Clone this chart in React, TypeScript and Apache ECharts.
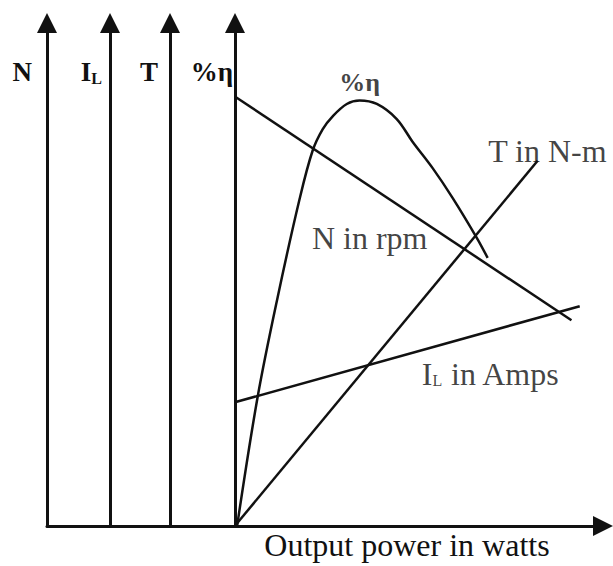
import React, { useEffect, useRef } from 'react';
import * as echarts from 'echarts';

// Output power (arbitrary units, 0 = origin) vs quantity (arbitrary units 0..100)
const speedN: number[][] = [[0, 85.4], [89.6, 40.9]];
const currentIL: number[][] = [[0, 24.6], [91.8, 43.7]];
const torqueT: number[][] = [[0, 0], [80.6, 72.6]];
const efficiency: number[][] = [
  [0.6, 0], [6.1, 25.8], [11.4, 45.5], [17.3, 65.2], [20.7, 74.6],
  [23.4, 78.9], [26.1, 81.5], [29.8, 83.9], [33.2, 84.6], [37.8, 83.9],
  [43.1, 80.9], [47.3, 76.4], [52.7, 71.1], [58.0, 65.2], [64.4, 57.3], [67.3, 53.3],
];

const axisNames = ['N', '{b|I}{s|L}', 'T', '%η'];
const curveLabels = ['%η', 'N in rpm', 'T in N-m', '{i|I}{s|L} in Amps'];
const xAxisName = 'Output power in watts';

// layout (not data)
const labelAnchors: number[][] = [[33.2, 88.2], [35.9, 57.3], [83.2, 74.6], [68.1, 30.3]];
const axisOffsets = [0, -63, -123, -188];
const axisNamePad = [15, 8, 12, 2];

const FONT = "'Liberation Serif', 'Times New Roman', serif";
const INK = '#111';

export default function App() {
  const ref = useRef<HTMLDivElement>(null);
  useEffect(() => {
    if (!ref.current) return;
    const chart = echarts.init(ref.current, undefined, { renderer: 'svg' });
    const yAxes = axisNames.map((nm, i) => ({
      type: 'value',
      min: 0,
      max: 100,
      position: 'left',
      offset: axisOffsets[i],
      name: nm,
      nameLocation: 'end',
      nameGap: -49,
      nameTextStyle: {
        fontFamily: FONT,
        fontSize: 27,
        fontWeight: 'bold',
        color: INK,
        align: 'right',
        verticalAlign: 'middle',
        padding: [0, axisNamePad[i], 0, 0],
        rich: {
          b: { fontFamily: FONT, fontSize: 27, fontWeight: 'bold', color: INK },
          s: { fontFamily: FONT, fontSize: 16, fontWeight: 'bold', color: INK, padding: [12, 0, 0, 0] },
        },
      },
      axisLine: {
        show: true,
        onZero: false,
        symbol: ['none', 'triangle'],
        symbolSize: [20, 20],
        lineStyle: { color: INK, width: 3 },
      },
      axisTick: { show: false },
      axisLabel: { show: false },
      splitLine: { show: false },
    }));
    const lineStyle = { color: INK, width: 2.5 };
    chart.setOption({
      animation: false,
      backgroundColor: '#fff',
      grid: { left: 47, right: 10, top: 23, bottom: 35, containLabel: false },
      xAxis: {
        type: 'value',
        min: -50,
        max: 98,
        name: xAxisName,
        nameLocation: 'middle',
        nameGap: 19,
        nameTextStyle: {
          fontFamily: FONT,
          fontSize: 32,
          color: INK,
          verticalAlign: 'middle',
          padding: [0, 0, 0, 164],
        },
        axisLine: {
          show: true,
          symbol: ['none', 'triangle'],
          symbolSize: [20, 20],
          lineStyle: { color: INK, width: 3 },
        },
        axisTick: { show: false },
        axisLabel: { show: false },
        splitLine: { show: false },
      },
      yAxis: yAxes,
      series: [
        { name: 'N in rpm', type: 'line', data: speedN, showSymbol: false, lineStyle, silent: true },
        { name: 'IL in Amps', type: 'line', data: currentIL, showSymbol: false, lineStyle, silent: true },
        { name: 'T in N-m', type: 'line', data: torqueT, showSymbol: false, lineStyle, silent: true },
        {
          name: '%η', type: 'line', data: efficiency, showSymbol: false, lineStyle,
          smooth: 0.35, silent: true,
        },
        {
          type: 'scatter',
          silent: true,
          symbolSize: 0,
          data: curveLabels.map((t, i) => ({
            name: t,
            value: labelAnchors[i],
            label: i === 0 ? { fontWeight: 'bold', fontSize: 26 } : undefined,
          })),
          label: {
            show: true,
            position: 'inside',
            formatter: (p: any) => p.name,
            fontFamily: FONT,
            fontSize: 32,
            color: INK,
            rich: {
              i: { fontFamily: FONT, fontSize: 32, color: INK },
              s: { fontFamily: FONT, fontSize: 16, color: INK, padding: [13, 0, 0, 0] },
            },
          },
        },
      ],
    });
    return () => chart.dispose();
  }, []);
  return (
    <div
      ref={ref}
      style={{ position: 'fixed', left: 0, top: 0, width: 613, height: 566, background: '#fff' }}
    />
  );
}
